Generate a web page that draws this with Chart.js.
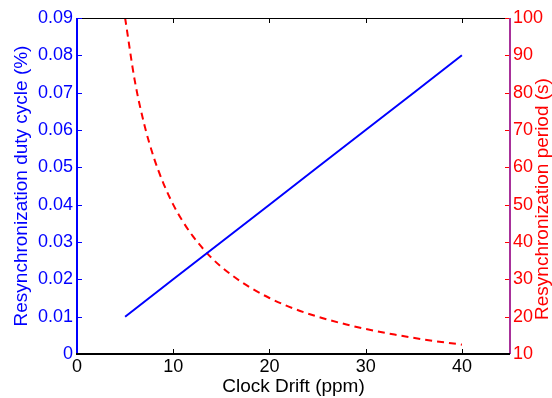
<!DOCTYPE html>
<html>
<head>
<meta charset="utf-8">
<script src="https://cdn.jsdelivr.net/npm/chart.js@4"></script>
<style>
  html, body { margin: 0; padding: 0; background: #fff; }
  #wrap { width: 552px; height: 398px; }
</style>
</head>
<body>
<div id="wrap"><canvas id="c" width="552" height="398"></canvas></div>
<script>
// 时钟漂移 (ppm)
const driftX = [5, 10, 15, 20, 25, 30, 35, 40];
// 占空比 (%)
const dutyCycle = [0.01, 0.02, 0.03, 0.04, 0.05, 0.06, 0.07, 0.08];
// 重同步周期 (s)
const periodX = [5, 6, 7, 8, 9, 10, 11, 12, 14, 16, 18, 20, 22, 25, 28, 30, 33, 36, 40];
const periodS = [100, 83.3, 71.4, 62.5, 55.6, 50, 45.5, 41.7, 35.7, 31.3, 27.8, 25, 22.7, 20, 17.9, 16.7, 15.2, 13.9, 12.5];

const xTicks = [0, 10, 20, 30, 40];
const leftTicks = [0, 0.01, 0.02, 0.03, 0.04, 0.05, 0.06, 0.07, 0.08, 0.09];
const rightTicks = [10, 20, 30, 40, 50, 60, 70, 80, 90, 100];

const FONT = 'Liberation Sans, Arial, sans-serif';
const rightTitle = 'Resynchronization period (s)';

// 画内向刻度、边框和右侧标题
const frame = {
    id: 'frame',
    afterDraw(chart) {
        const ctx = chart.ctx;
        const a = chart.chartArea;
        const x = chart.scales.x, yl = chart.scales.y, yr = chart.scales.y2;
        ctx.save();
        ctx.lineWidth = 1;
        // 上边框
        ctx.strokeStyle = '#000';
        ctx.beginPath();
        ctx.moveTo(a.left, a.top + 0.5);
        ctx.lineTo(a.right, a.top + 0.5);
        ctx.stroke();
        // x 刻度
        xTicks.forEach(v => {
            const px = Math.round(x.getPixelForValue(v)) + 0.5;
            ctx.beginPath();
            ctx.moveTo(px, a.bottom); ctx.lineTo(px, a.bottom - 5);
            ctx.moveTo(px, a.top); ctx.lineTo(px, a.top + 5);
            ctx.stroke();
        });
        // 左轴刻度
        ctx.strokeStyle = '#0000ff';
        leftTicks.forEach(v => {
            const py = Math.round(yl.getPixelForValue(v)) + 0.5;
            ctx.beginPath();
            ctx.moveTo(a.left, py); ctx.lineTo(a.left + 5, py);
            ctx.stroke();
        });
        // 右轴刻度
        ctx.strokeStyle = '#ff0000';
        rightTicks.forEach(v => {
            const py = Math.round(yr.getPixelForValue(v)) + 0.5;
            ctx.beginPath();
            ctx.moveTo(a.right, py); ctx.lineTo(a.right - 5, py);
            ctx.stroke();
        });
        // 左右轴线
        ctx.lineWidth = 2;
        ctx.strokeStyle = '#0000ff';
        ctx.beginPath();
        ctx.moveTo(a.left, a.top); ctx.lineTo(a.left, a.bottom);
        ctx.stroke();
        ctx.strokeStyle = '#a8309a';
        ctx.beginPath();
        ctx.moveTo(a.right, a.top); ctx.lineTo(a.right, a.bottom);
        ctx.stroke();
        ctx.strokeStyle = '#000';
        ctx.beginPath();
        ctx.moveTo(a.left - 1, a.bottom); ctx.lineTo(a.right, a.bottom);
        ctx.stroke();
        // 右侧标题 (由下往上)
        ctx.translate(543, 199);
        ctx.rotate(-Math.PI / 2);
        ctx.fillStyle = '#ff0000';
        ctx.font = '19px ' + FONT;
        ctx.textAlign = 'center';
        ctx.textBaseline = 'middle';
        ctx.fillText(rightTitle, 0, 0);
        ctx.restore();
    }
};

const chart = new Chart(document.getElementById('c'), {
    type: 'line',
    data: {
        datasets: [{
            label: 'duty',
            data: driftX.map((v, i) => ({ x: v, y: dutyCycle[i] })),
            borderColor: '#0000ff',
            borderWidth: 2,
            pointRadius: 0,
            yAxisID: 'y',
            fill: false
        }, {
            label: 'period',
            data: periodX.map((v, i) => ({ x: v, y: periodS[i] })),
            borderColor: '#ff0000',
            borderWidth: 2,
            borderDash: [7, 5],
            pointRadius: 0,
            cubicInterpolationMode: 'monotone',
            yAxisID: 'y2',
            fill: false
        }]
    },
    options: {
        responsive: false,
        animation: false,
        layout: { padding: { top: 18, right: 0, left: 0, bottom: 0 } },
        plugins: { legend: { display: false }, tooltip: { enabled: false } },
        scales: {
            x: {
                type: 'linear',
                min: 0, max: 45,
                afterBuildTicks: s => { s.ticks = xTicks.map(v => ({ value: v })); },
                afterFit: s => { s.height = 44; },
                grid: { display: false, drawTicks: false },
                border: { display: false },
                ticks: { color: '#000', font: { family: FONT, size: 18 }, padding: 2 },
                title: { display: true, text: 'Clock Drift (ppm)', color: '#000', font: { family: FONT, size: 19 }, padding: { top: -3, bottom: 0 } }
            },
            y: {
                position: 'left',
                min: 0, max: 0.09,
                afterBuildTicks: s => { s.ticks = leftTicks.map(v => ({ value: v })); },
                afterFit: s => { s.width = 77; },
                grid: { display: false, drawTicks: false },
                border: { display: false },
                ticks: { color: '#0000ff', font: { family: FONT, size: 18 }, padding: 4,
                    callback: v => v === 0 ? '0' : v.toFixed(2) },
                title: { display: true, text: 'Resynchronization duty cycle (%)', color: '#0000ff', font: { family: FONT, size: 19 }, padding: { top: 10, bottom: 0 } }
            },
            y2: {
                position: 'right',
                min: 10, max: 100,
                afterBuildTicks: s => { s.ticks = rightTicks.map(v => ({ value: v })); },
                afterFit: s => { s.width = 42; },
                grid: { display: false, drawTicks: false },
                border: { display: false },
                ticks: { color: '#ff0000', font: { family: FONT, size: 18 }, padding: 3 },
                title: { display: false }
            }
        }
    },
    plugins: [frame]
});
</script>
</body>
</html>
